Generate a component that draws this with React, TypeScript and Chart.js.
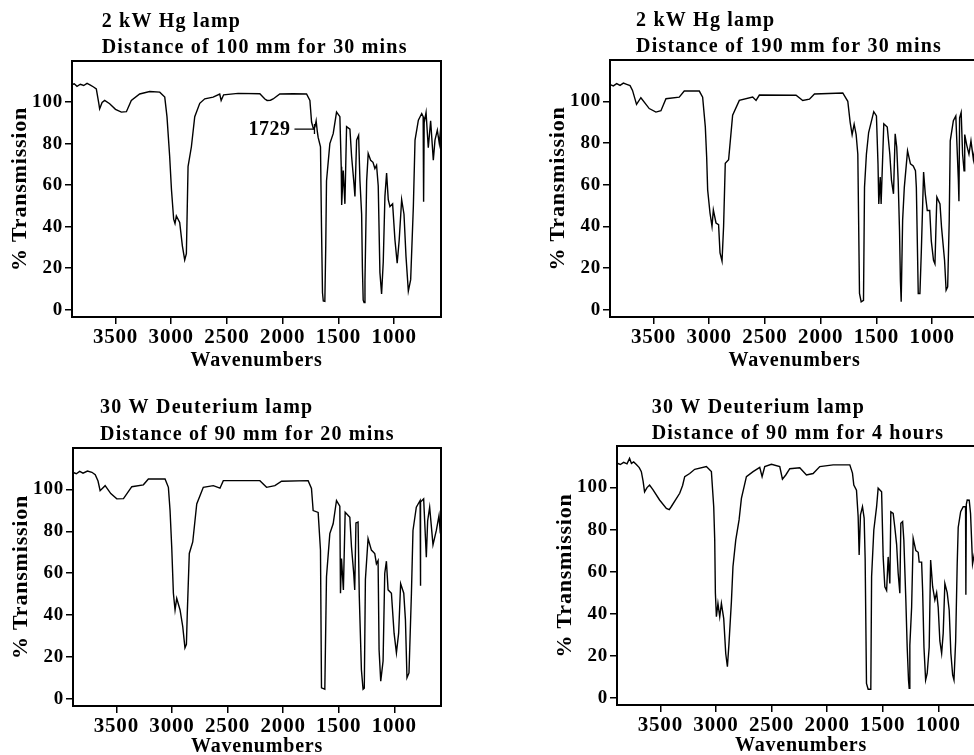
import React, { useEffect, useRef } from "react";
import { Chart, registerables } from "chart.js";

Chart.register(...registerables);

// ---------- axes ----------
const xTicks = [3500, 3000, 2500, 2000, 1500, 1000];
const yTicks = [0, 20, 40, 60, 80, 100];
const xRange = [580, 3890];
const yRange = [-3.5, 119.8];

// ---------- titles ----------
const titleHg100 = ["2 kW Hg lamp", "Distance of 100 mm for 30 mins"];
const titleHg190 = ["2 kW Hg lamp", "Distance of 190 mm for 30 mins"];
const titleD20 = ["30 W Deuterium lamp", "Distance of 90 mm for 20 mins"];
const titleD4h = ["30 W Deuterium lamp", "Distance of 90 mm for 4 hours"];
const noteLabel = "1729";
const notePoint = [1715, 87];

// ---------- spectra: [wavenumber, % transmission] ----------
const hg100 = [
  [3888,108.5],[3870,108.8],[3845,107.6],[3815,108.6],[3785,108.0],[3755,109.0],[3725,108.2],[3700,107.4],
  [3672,106.4],[3650,99.5],[3642,96.8],[3620,99.8],[3597,100.8],[3552,99.2],[3500,96.5],[3447,95.2],
  [3402,95.4],[3358,100.8],[3283,103.9],[3193,105.1],[3103,104.8],[3058,102.4],[3038,93],[3014,73.9],
  [2998,58],[2978,43.6],[2966,41.5],[2954,45.2],[2924,42],[2900,30.8],[2879,24],[2864,27],[2849,68.9],
  [2819,78.5],[2789,93],[2744,99.4],[2699,101.6],[2624,102.4],[2565,103.9],[2552,100.8],[2530,103.5],
  [2400,104.2],[2205,104],[2160,101.5],[2140,100.8],[2110,100.9],[2086,101.5],[2026,103.9],[1906,104],
  [1786,103.9],[1756,100.8],[1741,90.4],[1725,87.2],[1711,88],[1700,91],[1690,86],[1682,83],[1661,78.5],
  [1652,40],[1643,8.2],[1636,4.2],[1622,4],[1614,30],[1607,62],[1577,80],[1547,84.8],[1517,95.2],
  [1487,93],[1475,68.9],[1471,50.5],[1457,67],[1442,51],[1427,88.2],[1397,87],[1382,73.9],[1361,61],
  [1352,54.6],[1337,81.7],[1319,84],[1307,62],[1292,46],[1285,20],[1278,4.6],[1270,3.5],[1262,14.2],
  [1247,62],[1233,75.3],[1211,72],[1190,71],[1173,68],[1158,69.6],[1143,59.6],[1128,18],[1113,7.6],
  [1098,23],[1083,54.6],[1068,65.8],[1053,53],[1038,49.7],[1014,51],[993,33.6],[973,22.4],[955,33.6],
  [933,53],[912,46],[894,25.7],[873,9],[852,14.5],[828,49.7],[813,81.7],[783,91.3],[753,94.5],[740,93],
  [736,52],[731,90],[714,95],[694,78],[673,91],[649,72],[634,81.7],[613,86.5],[595,80],[582,88]
];

const hg190 = [
  [3888,108],[3860,107.4],[3830,108.5],[3800,107.6],[3770,108.7],[3740,108.1],[3710,107.5],[3688,105.2],
  [3652,98.5],[3613,101.7],[3538,96.5],[3478,94.8],[3433,95.5],[3388,101.2],[3269,102],[3224,104.9],
  [3089,104.9],[3059,102],[3035,87.7],[3023,73.4],[3014,57.5],[2993,46.4],[2975,40],[2963,47.9],
  [2939,41.6],[2916,40.8],[2903,27.3],[2885,23.3],[2871,40],[2856,70.2],[2826,72],[2790,93.3],
  [2730,100.4],[2610,102],[2580,100.4],[2550,103],[2221,102.9],[2161,100.4],[2101,101],[2056,103.5],
  [1802,104],[1757,100],[1736,90],[1718,84],[1700,89],[1682,84],[1667,74.6],[1652,7.8],[1637,3.8],
  [1616,4.5],[1607,58.7],[1590,74.6],[1570,85],[1524,95],[1500,93],[1486,70],[1479,50.7],[1466,63.6],
  [1458,50.7],[1434,89.2],[1403,87.6],[1380,74.6],[1365,62],[1347,55.6],[1332,84.4],[1318,78],[1305,62],
  [1293,38],[1285,14],[1278,3.8],[1265,43],[1250,58.7],[1221,76.2],[1195,70],[1170,69],[1150,66.7],
  [1142,58.7],[1125,7.8],[1110,7.8],[1098,26.9],[1077,66],[1062,55.6],[1044,47.6],[1022,47.6],[1008,33],
  [988,23.7],[975,22],[966,39.5],[958,54],[930,50.7],[916,39.5],[889,23.7],[875,9.4],[861,11],[847,43],
  [838,81],[810,90.7],[788,93],[765,62],[760,52],[754,92],[740,94.6],[727,74.6],[714,66.7],[708,84],
  [690,79],[670,74.6],[652,81],[630,72],[610,80],[590,76]
];

const d20 = [
  [3888,108.1],[3860,107.5],[3830,108.6],[3800,107.8],[3760,108.8],[3720,108.2],[3690,107],[3665,104],
  [3646,99.4],[3601,101.8],[3550,98],[3496,95.5],[3436,95.6],[3361,101.3],[3257,102.2],[3212,105],
  [3062,105],[3032,101],[3017,89.9],[3002,72.5],[2987,50.4],[2972,42.4],[2957,48],[2927,42.4],
  [2903,34.5],[2883,24.3],[2870,26],[2862,40.9],[2844,69.4],[2813,74.9],[2777,93.1],[2718,101],
  [2628,101.8],[2568,100.6],[2538,104.2],[2209,104.2],[2149,101],[2074,101.8],[2014,103.9],[1775,104.2],
  [1745,100.5],[1730,89.9],[1685,89],[1664,70.9],[1655,5.2],[1625,4.5],[1610,58.3],[1580,78.9],
  [1550,83.6],[1520,94.7],[1490,92],[1484,50.4],[1475,67],[1458,52],[1442,89.1],[1400,86.7],[1385,72.5],
  [1365,59.9],[1356,52],[1345,84],[1326,84.4],[1315,49],[1296,13.9],[1281,4.5],[1270,5],[1260,57],
  [1236,76.5],[1206,71],[1176,69.4],[1161,64.5],[1146,66],[1137,23.4],[1122,8.4],[1101,18],[1086,59.9],
  [1071,65.7],[1056,52],[1026,50.4],[1002,31.3],[981,21.9],[961,31.3],[943,55],[915,50.4],[900,37.8],
  [886,10],[868,12.3],[846,50.4],[832,80.4],[802,91.5],[768,94.7],[766,54],[762,94],[736,95.5],
  [712,67.6],[700,85],[682,91.5],[652,73.5],[622,80.4],[598,87.5],[586,79]
];

const d4h = [
  [3888,111.6],[3860,111],[3830,112],[3800,111.3],[3777,113.9],[3760,111.5],[3740,112.2],[3716,111],
  [3690,109.5],[3671,107.6],[3655,103],[3642,98],[3620,100],[3597,101.2],[3567,99],[3507,94.1],
  [3446,90.1],[3420,89.5],[3401,91],[3326,97.3],[3300,101],[3281,105.2],[3236,106.7],[3191,108.7],
  [3086,110],[3041,107.6],[3020,90.9],[3011,75],[3005,49.7],[2996,38.5],[2982,44.9],[2966,38.5],
  [2951,44.9],[2930,37.6],[2912,21],[2897,14.7],[2883,25.6],[2861,45.7],[2847,62.3],[2822,75],
  [2792,84.6],[2771,94.9],[2726,105.2],[2666,107.6],[2606,109.6],[2585,105.2],[2561,110],[2501,111.1],
  [2426,110],[2402,104],[2372,106],[2336,109],[2246,109.4],[2186,106],[2126,106.7],[2066,110],
  [1946,110.8],[1796,110.8],[1772,106.9],[1760,101.2],[1736,98.8],[1721,86.2],[1712,67.9],[1700,87],
  [1682,90.9],[1667,85.5],[1658,66],[1646,6.8],[1631,4],[1607,4],[1600,57.6],[1580,79.8],[1555,90.9],
  [1541,99.7],[1510,98],[1496,67],[1481,52.8],[1465,51],[1451,67],[1436,54.4],[1427,88.5],[1406,87.7],
  [1391,81],[1375,73],[1361,59.2],[1346,49.7],[1337,83],[1321,83.8],[1310,75],[1292,46.5],[1280,24.2],
  [1268,8.4],[1262,4.4],[1256,25],[1240,43],[1226,75.8],[1202,70],[1181,69.2],[1172,64.5],[1150,64.5],
  [1141,51],[1129,24],[1114,8.4],[1100,11.5],[1082,24],[1069,65.5],[1051,52.8],[1031,46.5],[1015,50],
  [1001,43],[986,27],[970,21.1],[956,30.6],[941,54.4],[920,50],[902,41.6],[887,21.1],[871,10.8],
  [859,8.4],[844,27],[830,63.7],[821,81],[799,88.5],[776,90.9],[755,91],[752,49],[748,92],[740,94.1],
  [722,94],[710,87.7],[692,63.7],[670,70],[640,80],[600,75]
];

// ---------- layout (not data) ----------
const SERIF = '"Liberation Serif", "Times New Roman", serif';
const Y_W = 72;
const PAD_TOP = 61;
const PAD_RIGHT = 30;
const X_H = 58;

type PanelCfg = {
  series: number[][];
  title: string[];
  boxL: number; boxT: number; w: number; h: number;
  titleX: number; titleYs: number[];
  xTitlePad: number;
  note?: boolean;
};

const panels: PanelCfg[] = [
  { series: hg100, title: titleHg100, boxL: 72, boxT: 61, w: 369, h: 256, titleX: 101.7, titleYs: [26.7, 53.3], xTitlePad: 2, note: true },
  { series: hg190, title: titleHg190, boxL: 610, boxT: 60, w: 369, h: 257, titleX: 636, titleYs: [26, 51.7], xTitlePad: 2 },
  { series: d20, title: titleD20, boxL: 73, boxT: 448, w: 368, h: 258, titleX: 100, titleYs: [413.3, 440], xTitlePad: 5 },
  { series: d4h, title: titleD4h, boxL: 617, boxT: 446, w: 368, h: 259, titleX: 651.7, titleYs: [412.7, 439.3], xTitlePad: 5 },
];

function Panel({ cfg }: { cfg: PanelCfg }) {
  const ref = useRef<HTMLCanvasElement>(null);
  const cLeft = cfg.boxL - Y_W;
  const cTop = cfg.boxT - PAD_TOP;
  const cw = Y_W + cfg.w + PAD_RIGHT;
  const ch = PAD_TOP + cfg.h + X_H;

  useEffect(() => {
    const canvas = ref.current!;
    const framePlugin = {
      id: "frameAndTitles",
      beforeDraw(chart: any) {
        chart.ctx.letterSpacing = "0.8px";
      },
      afterDraw(chart: any) {
        const { ctx, chartArea: a } = chart;
        ctx.save();
        ctx.strokeStyle = "#000";
        ctx.lineWidth = 2;
        ctx.strokeRect(a.left, a.top, a.right - a.left, a.bottom - a.top);
        ctx.fillStyle = "#000";
        ctx.font = `bold 20px ${SERIF}`;
        ctx.letterSpacing = "1.2px";
        ctx.textAlign = "left";
        ctx.textBaseline = "alphabetic";
        cfg.title.forEach((t, i) => ctx.fillText(t, cfg.titleX - cLeft, cfg.titleYs[i] - cTop));
        if (cfg.note) {
          const px = chart.scales.x.getPixelForValue(notePoint[0]);
          const py = chart.scales.y.getPixelForValue(notePoint[1]);
          ctx.lineWidth = 1.3;
          ctx.beginPath();
          ctx.moveTo(px - 20, py);
          ctx.lineTo(px, py);
          ctx.moveTo(px, py - 5);
          ctx.lineTo(px, py + 5);
          ctx.stroke();
          ctx.font = `bold 20px ${SERIF}`;
          ctx.letterSpacing = "0.5px";
          ctx.textAlign = "right";
          ctx.textBaseline = "middle";
          ctx.fillText(noteLabel, px - 24, py + 1);
        }
        ctx.restore();
      },
    };

    const chart = new Chart(canvas, {
      type: "line",
      data: {
        datasets: [
          {
            data: cfg.series.map((p) => ({ x: p[0], y: p[1] })),
            borderColor: "#000",
            borderWidth: 1.4,
            pointRadius: 0,
            tension: 0,
            fill: false,
          },
        ],
      },
      options: {
        animation: false,
        responsive: false,
        devicePixelRatio: 1,
        layout: { padding: { left: 0, top: PAD_TOP, right: PAD_RIGHT, bottom: 0 } },
        plugins: { legend: { display: false }, tooltip: { enabled: false }, title: { display: false } },
        scales: {
          x: {
            type: "linear",
            reverse: true,
            min: xRange[0],
            max: xRange[1],
            afterBuildTicks: (s: any) => { s.ticks = xTicks.map((v) => ({ value: v })); },
            afterFit: (s: any) => { s.height = X_H; },
            grid: { drawOnChartArea: false, drawTicks: true, tickLength: 7, color: "#000", lineWidth: 1.5 },
            border: { display: false },
            ticks: {
              color: "#000",
              font: { family: SERIF, size: 21, weight: "bold" },
              padding: 1,
              maxRotation: 0,
              autoSkip: false,
              callback: (v: any) => String(v),
            },
            title: {
              display: true,
              text: "Wavenumbers",
              color: "#000",
              font: { family: SERIF, size: 20, weight: "bold" },
              padding: { top: 0, bottom: cfg.xTitlePad },
            },
          },
          y: {
            type: "linear",
            min: yRange[0],
            max: yRange[1],
            afterBuildTicks: (s: any) => { s.ticks = yTicks.map((v) => ({ value: v })); },
            afterFit: (s: any) => { s.width = Y_W; },
            grid: { drawOnChartArea: false, drawTicks: true, tickLength: 7, color: "#000", lineWidth: 1.5 },
            border: { display: false },
            ticks: {
              color: "#000",
              font: { family: SERIF, size: 19, weight: "bold" },
              padding: 2,
              autoSkip: false,
              callback: (v: any) => String(v),
            },
            title: {
              display: true,
              text: "% Transmission",
              color: "#000",
              font: { family: SERIF, size: 22, weight: "bold" },
              padding: { top: 7, bottom: 0 },
            },
          },
        },
      },
      plugins: [framePlugin],
    } as any);
    return () => chart.destroy();
  }, []);

  return (
    <canvas
      ref={ref}
      width={cw}
      height={ch}
      style={{ position: "absolute", left: cLeft, top: cTop, width: cw, height: ch }}
    />
  );
}

export default function App() {
  return (
    <div
      style={{
        position: "fixed",
        left: 0,
        top: 0,
        width: 974,
        height: 755,
        overflow: "hidden",
        background: "#fff",
      }}
    >
      {panels.map((p, i) => (
        <Panel key={i} cfg={p} />
      ))}
    </div>
  );
}
